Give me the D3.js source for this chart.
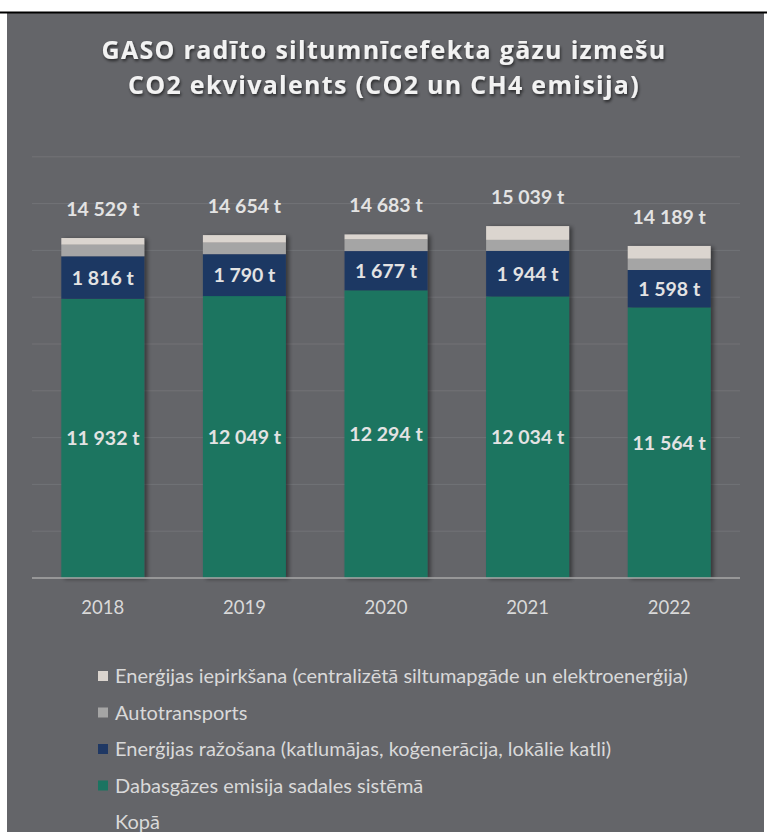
<!DOCTYPE html>
<html>
<head>
<meta charset="utf-8">
<script src="https://cdn.jsdelivr.net/npm/d3@7"></script>
<style>
  body { margin: 0; background: #ffffff; }
</style>
</head>
<body>
<div id="chart"></div>
<script>
const years = ["2018", "2019", "2020", "2021", "2022"];
const dabasgaze = [11932, 12049, 12294, 12034, 11564];
const razosana = [1816, 1790, 1677, 1944, 1598];
const autotransports = [496, 495, 500, 471, 482];
const iepirksana = [285, 320, 212, 590, 545];
const kopa = [14529, 14654, 14683, 15039, 14189];
const yTicks = [0, 2000, 4000, 6000, 8000, 10000, 12000, 14000, 16000, 18000];

const seriesNames = [
  "Dabasgāzes emisija sadales sistēmā",
  "Enerģijas ražošana (katlumājas, koģenerācija, lokālie katli)",
  "Autotransports",
  "Enerģijas iepirkšana (centralizētā siltumapgāde un elektroenerģija)"
];
const colors = ["#1b7461", "#1f3864", "#a5a5a5", "#dbd5cf"];

const W = 768, H = 832;
const svg = d3.select("#chart").append("svg").attr("width", W).attr("height", H);

const defs = svg.append("defs");
defs.append("filter").attr("id", "barShadow")
  .attr("x", "-20%").attr("y", "-20%").attr("width", "140%").attr("height", "140%")
  .append("feDropShadow")
  .attr("dx", 3).attr("dy", 1).attr("stdDeviation", 2)
  .attr("flood-color", "#000").attr("flood-opacity", 0.45);
defs.append("filter").attr("id", "textShadow")
  .append("feDropShadow")
  .attr("dx", 1).attr("dy", 2).attr("stdDeviation", 1.5)
  .attr("flood-color", "#000").attr("flood-opacity", 0.6);

// frame
svg.append("rect").attr("x", 7).attr("y", 13).attr("width", 757).attr("height", H - 13)
  .attr("fill", "#646569");
svg.append("line").attr("x1", 0).attr("x2", 767).attr("y1", 12.5).attr("y2", 12.5)
  .attr("stroke", "#000").attr("stroke-width", 2);

// title
const title = svg.append("text").attr("text-anchor", "middle")
  .attr("font-family", "'Open Sans', sans-serif").attr("font-weight", "bold")
  .attr("font-size", 25).attr("letter-spacing", 1.3)
  .attr("fill", "#f2f2f2").attr("filter", "url(#textShadow)");
title.append("tspan").attr("x", 384).attr("y", 59).text("GASO radīto siltumnīcefekta gāzu izmešu");
title.append("tspan").attr("x", 384).attr("y", 94).text("CO2 ekvivalents (CO2 un CH4 emisija)");

const x = d3.scaleBand().domain(years).range([32, 740]).paddingInner(0.414).paddingOuter(0.207);
const y = d3.scaleLinear().domain([0, 18000]).range([578, 156.8]);

const fmt = d3.formatLocale({ thousands: " ", grouping: [3], decimal: ",", currency: ["", ""] }).format(",d");

// gridlines
svg.append("g").selectAll("line").data(yTicks.slice(1)).join("line")
  .attr("x1", 32).attr("x2", 740)
  .attr("y1", d => y(d)).attr("y2", d => y(d))
  .attr("stroke", "#727377").attr("stroke-width", 1);

const table = years.map((yr, i) => ({
  year: yr, s0: dabasgaze[i], s1: razosana[i], s2: autotransports[i], s3: iepirksana[i]
}));
const stacked = d3.stack().keys(["s0", "s1", "s2", "s3"])(table);

const gBars = svg.append("g").attr("filter", "url(#barShadow)");
stacked.forEach((layer, k) => {
  gBars.selectAll(null).data(layer).join("rect")
    .attr("x", d => x(d.data.year))
    .attr("width", x.bandwidth())
    .attr("y", d => y(d[1]))
    .attr("height", d => y(d[0]) - y(d[1]))
    .attr("fill", colors[k]);
});

// axis
svg.append("line").attr("x1", 32).attr("x2", 740).attr("y1", y(0)).attr("y2", y(0))
  .attr("stroke", "#a9a9a9").attr("stroke-width", 1.5);
svg.append("g").selectAll("text").data(years).join("text")
  .attr("x", d => x(d) + x.bandwidth() / 2).attr("y", 614)
  .attr("text-anchor", "middle")
  .attr("font-family", "Lato, sans-serif").attr("font-size", 18.5)
  .attr("fill", "#d9d9d9").text(d => d);

// labels
const lab = svg.append("g").attr("font-family", "Lato, sans-serif").attr("font-weight", "bold")
  .attr("font-size", 19.5).attr("text-anchor", "middle");
lab.selectAll(".green").data(stacked[0]).join("text")
  .attr("x", d => x(d.data.year) + x.bandwidth() / 2)
  .attr("y", d => (y(d[0]) + y(d[1])) / 2 + 7)
  .attr("fill", "#e3e3e3").text(d => fmt(d[1] - d[0]) + " t");
lab.selectAll(".navy").data(stacked[1]).join("text")
  .attr("x", d => x(d.data.year) + x.bandwidth() / 2)
  .attr("y", d => (y(d[0]) + y(d[1])) / 2 + 7)
  .attr("fill", "#e3e3e3").text(d => fmt(d[1] - d[0]) + " t");
lab.selectAll(".total").data(kopa).join("text")
  .attr("x", (d, i) => x(years[i]) + x.bandwidth() / 2)
  .attr("y", d => y(d) - 22)
  .attr("fill", "#e3e3e3").text(d => fmt(d) + " t");

// legend
const legendItems = [
  { name: seriesNames[3], color: colors[3] },
  { name: seriesNames[2], color: colors[2] },
  { name: seriesNames[1], color: colors[1] },
  { name: seriesNames[0], color: colors[0] },
  { name: "Kopā", color: null }
];
const lg = svg.append("g").selectAll("g").data(legendItems).join("g")
  .attr("transform", (d, i) => `translate(98, ${676 + i * 36.5})`);
lg.filter(d => d.color).append("rect").attr("x", 0).attr("y", -5).attr("width", 10).attr("height", 10)
  .attr("fill", d => d.color);
lg.append("text").attr("x", 17).attr("y", 7)
  .attr("font-family", "Lato, sans-serif").attr("font-size", 20)
  .attr("fill", "#d9d9d9").text(d => d.name);
</script>
</body>
</html>
